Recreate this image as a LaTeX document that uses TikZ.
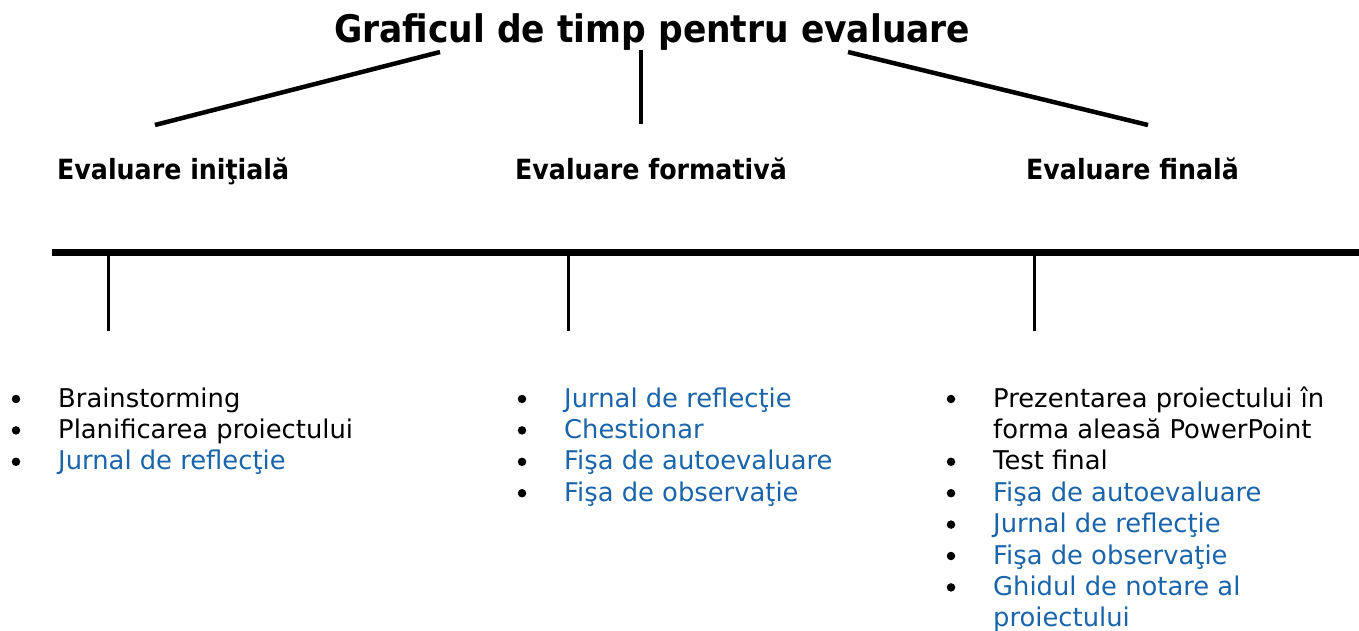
\documentclass[tikz,border=0pt]{standalone}
\usepackage{fontspec}
\setmainfont{DejaVu Sans}
\definecolor{itemblue}{RGB}{25,100,170}
\begin{document}
\begin{tikzpicture}[x=1pt,y=-1pt,
  titletext/.style={anchor=base west,inner sep=0pt,font=\fontsize{34.5}{40}\selectfont\bfseries},
  headtext/.style={anchor=base west,inner sep=0pt,font=\fontsize{25.3}{30}\selectfont\bfseries},
  itemtext/.style={anchor=base west,inner sep=0pt,align=left,font=\fontsize{25.8}{31.4}\selectfont},
  blue item/.style={itemtext,text=itemblue},
  bulletdot/.style={circle,fill=black,inner sep=0pt,minimum size=8.5pt},
  branch/.style={line width=4.5pt},
  bar/.style={line width=7pt},
  tick/.style={line width=3pt}]
\useasboundingbox (0,0) rectangle (1359,631);
% title
\node[titletext] (title) at (334,43) {\scalebox{1}[1.1]{Graficul de timp pentru evaluare}};
% branch lines
\coordinate (bl1) at (440,52); \coordinate (bl2) at (155,125);
\coordinate (bc1) at (641,50); \coordinate (bc2) at (641,124);
\coordinate (br1) at (848,52); \coordinate (br2) at (1148,125);
\draw[branch] (bl1) -- (bl2);
\draw[branch] (bc1) -- (bc2);
\draw[branch] (br1) -- (br2);
% headings
\node[headtext] (h1) at (57,179) {\scalebox{1}[1.1]{Evaluare iniţială}};
\node[headtext] (h2) at (515,179) {\scalebox{1}[1.1]{Evaluare formativă}};
\node[headtext] (h3) at (1026,179) {\scalebox{1}[1.1]{Evaluare finală}};
% timeline
\coordinate (barL) at (52,252); \coordinate (barR) at (1359,252);
\draw[bar] (barL) -- (barR);
\coordinate (t1a) at (108,252); \coordinate (t1b) at (108,331);
\coordinate (t2a) at (568,252); \coordinate (t2b) at (568,331);
\coordinate (t3a) at (1034,252); \coordinate (t3b) at (1034,331);
\draw[tick] (t1a) -- (t1b);
\draw[tick] (t2a) -- (t2b);
\draw[tick] (t3a) -- (t3b);
% left list
\node[bulletdot] (lb1) at (16,399) {};
\node[bulletdot] (lb2) at (16,430.4) {};
\node[bulletdot] (lb3) at (16,461.8) {};
\node[itemtext] (l1) at (58,407) {Brainstorming};
\node[itemtext] (l2) at (58,438.4) {Planificarea proiectului};
\node[blue item] (l3) at (58,469.8) {Jurnal de reflecţie};
% middle list
\node[bulletdot] (mb1) at (522,399) {};
\node[bulletdot] (mb2) at (522,430.4) {};
\node[bulletdot] (mb3) at (522,461.8) {};
\node[bulletdot] (mb4) at (522,493.2) {};
\node[blue item] (m1) at (564,407) {Jurnal de reflecţie};
\node[blue item] (m2) at (564,438.4) {Chestionar};
\node[blue item] (m3) at (564,469.8) {Fişa de autoevaluare};
\node[blue item] (m4) at (564,501.2) {Fişa de observaţie};
% right list (multi-line nodes are anchored at their last line's baseline)
\node[bulletdot] (rb1) at (951,399) {};
\node[bulletdot] (rb2) at (951,461.8) {};
\node[bulletdot] (rb3) at (951,493.2) {};
\node[bulletdot] (rb4) at (951,524.6) {};
\node[bulletdot] (rb5) at (951,556) {};
\node[bulletdot] (rb6) at (951,587.4) {};
\node[itemtext] (r1) at (993,438.4) {Prezentarea proiectului în\\forma aleasă PowerPoint};
\node[itemtext] (r2) at (993,469.8) {Test final};
\node[blue item] (r3) at (993,501.2) {Fişa de autoevaluare};
\node[blue item] (r4) at (993,532.6) {Jurnal de reflecţie};
\node[blue item] (r5) at (993,564) {Fişa de observaţie};
\node[blue item] (r6) at (993,626.8) {Ghidul de notare al\\proiectului};
\end{tikzpicture}
\end{document}
